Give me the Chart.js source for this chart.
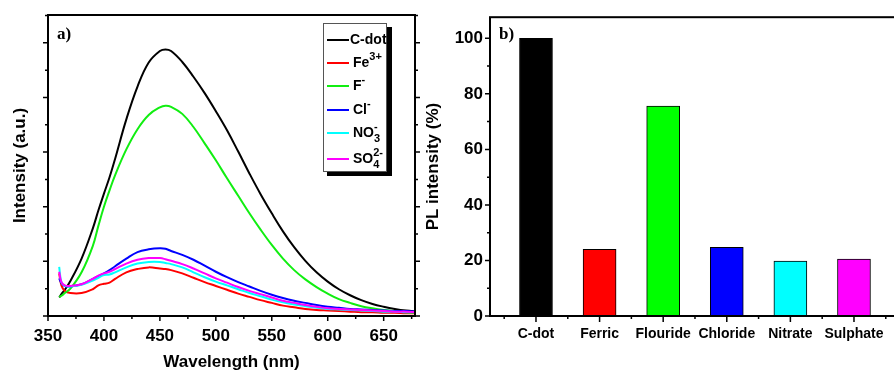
<!DOCTYPE html>
<html>
<head>
<meta charset="utf-8">
<script src="https://cdn.jsdelivr.net/npm/chart.js@4.4.1/dist/chart.umd.min.js"></script>
<style>
html, body { margin: 0; padding: 0; background: #fff; overflow: hidden; width: 894px; height: 374px; }
#boxA { position: absolute; left: 0; top: 0; }
#boxB { position: absolute; left: 420px; top: 0; }
</style>
</head>
<body>
<div id="boxA"><canvas id="chartA" width="425" height="374"></canvas></div>
<div id="boxB"><canvas id="chartB" width="490" height="374"></canvas></div>
<script>
// PANEL a) - emission spectra
let wavelengths = [360, 362, 365, 370, 380, 390, 395, 400, 405, 410, 420, 430, 440, 450, 455, 460, 470, 480, 490, 500,
	510, 520, 530, 540, 550, 560, 570, 580, 590, 600, 610, 620, 630, 640, 650, 660, 670, 680];
let cdot     = [34, 40, 48, 64, 105, 160, 193, 224, 254, 288, 360, 420, 464, 485, 488, 485, 465, 438, 408, 375,
	340, 301, 261, 223, 188, 155, 126, 101, 80, 63, 49, 38, 29, 22, 17, 13, 10, 8];
let ferric   = [78, 56, 46, 42, 42, 49, 56, 59, 61, 68, 80, 86, 89, 87, 86, 84, 78, 70, 62, 55,
	48, 41, 35, 29, 24, 19, 16, 13, 11, 10, 9, 8, 7, 7, 6, 6, 5, 5];
let fluoride = [35, 37, 42, 50, 80, 128, 165, 200, 230, 258, 305, 342, 368, 382, 385, 383, 370, 346, 316, 285,
	252, 220, 188, 158, 130, 105, 84, 67, 53, 41, 31, 24, 18, 14, 11, 9, 7, 6];
let chloride = [69, 60, 55, 54, 58, 68, 73, 78, 84, 91, 105, 117, 122, 124, 123, 119, 112, 103, 92, 81,
	71, 62, 54, 46, 39, 33, 28, 24, 20, 17, 15, 13, 12, 11, 10, 9, 9, 8];
let nitrate  = [90, 62, 55, 54, 57, 65, 70, 75, 76, 80, 89, 96, 99, 99, 97, 95, 89, 80, 71, 63,
	56, 49, 42, 36, 30, 25, 21, 18, 15, 13, 12, 11, 10, 9, 8, 8, 7, 7];
let sulphate = [81, 62, 56, 55, 58, 68, 74, 78, 81, 86, 96, 103, 106, 106, 104, 101, 95, 87, 78, 69,
	61, 53, 46, 40, 34, 28, 24, 20, 17, 14, 13, 12, 11, 10, 9, 8, 8, 7];
let wlTicks = [350, 400, 450, 500, 550, 600, 650];

// PANEL b) - PL intensity bars
let ionNames = ["C-dot", "Ferric", "Flouride", "Chloride", "Nitrate", "Sulphate"];
let plIntensity = [100, 24, 75.6, 24.7, 19.8, 20.5];
let plTicks = [0, 20, 40, 60, 80, 100];

let ionColors = ["#000000", "#ff0000", "#11ee11", "#0000ff", "#00ffff", "#ff00ff"];
let barColors = ["#000000", "#ff0000", "#00ff00", "#0000ff", "#00ffff", "#ff00ff"];

const SANS = "'Liberation Sans', Arial, sans-serif";
const SERIF = "'Liberation Serif', 'Times New Roman', serif";

//marc + ticks petits (majors i minors)
const frameTicks = {
	id: 'frameTicks',
	afterDraw(chart, args, opts) {
		const {ctx, chartArea: a, scales} = chart;
		ctx.save();
		ctx.strokeStyle = '#000';
		ctx.lineWidth = 2;
		ctx.strokeRect(a.left, a.top, a.right - a.left, a.bottom - a.top);
		ctx.lineWidth = 1.5;
		ctx.beginPath();
		opts.xMarks.forEach(([v, len]) => {
			const x = scales.x.getPixelForValue(v);
			ctx.moveTo(x, a.bottom);
			ctx.lineTo(x, a.bottom + len);
		});
		opts.yMarks.forEach(([v, len]) => {
			const y = scales.y.getPixelForValue(v);
			ctx.moveTo(a.left, y);
			ctx.lineTo(a.left - len, y);
			if (opts.right) {
				ctx.moveTo(a.right, y);
				ctx.lineTo(a.right + len, y);
			}
		});
		ctx.stroke();
		ctx.font = 'bold 17px ' + SERIF;
		ctx.fillStyle = '#000';
		ctx.textBaseline = 'middle';
		ctx.fillText(opts.tag, a.left + 9, 35);
		ctx.restore();
	}
};

// llegenda amb superindexs i subindexs
const ionLegend = {
	id: 'ionLegend',
	afterDraw(chart) {
		const ctx = chart.ctx;
		const rows = [
			{y: 40, parts: [["C-dot", 0]]},
			{y: 63, parts: [["Fe", 0], ["3+", -1]]},
			{y: 86, parts: [["F", 0], ["-", -1]]},
			{y: 110, parts: [["Cl", 0], ["-", -1]]},
			{y: 133, parts: [["NO", 0], ["3", 1], ["-", -1, true]]},
			{y: 159, parts: [["SO", 0], ["4", 1], ["2-", -1, true]]}
		];
		ctx.save();
		ctx.fillStyle = '#000';
		ctx.fillRect(327, 172, 65, 4);
		ctx.fillRect(387, 27, 5, 149);
		ctx.fillStyle = '#fff';
		ctx.fillRect(323, 23, 64, 149);
		ctx.strokeStyle = '#555';
		ctx.lineWidth = 1;
		ctx.strokeRect(323.5, 23.5, 63, 148);
		ctx.textBaseline = 'middle';
		rows.forEach((row, i) => {
			ctx.strokeStyle = ionColors[i];
			ctx.lineWidth = 2;
			ctx.beginPath();
			ctx.moveTo(327, row.y);
			ctx.lineTo(349, row.y);
			ctx.stroke();
			ctx.fillStyle = '#000';
			let x = i === 0 ? 350 : 353;
			let lastX = x;
			row.parts.forEach(([t, lvl, stacked]) => {
				ctx.font = (lvl === 0 ? 'bold 14px ' : 'bold 11px ') + SANS;
				const px = stacked ? lastX : x;
				ctx.fillText(t, px, row.y + lvl * 6);
				lastX = px;
				x = px + ctx.measureText(t).width;
			});
		});
		ctx.restore();
	}
};

const wlMarks = [];
for (let v = 350; v <= 675; v += 25) wlMarks.push([v, v % 50 === 0 ? 5 : 3]);
const intMarks = [];
for (let v = 0; v <= 550; v += 50) intMarks.push([v, v % 100 === 0 ? 5 : 3]);

const spectra = [cdot, ferric, fluoride, chloride, nitrate, sulphate];

const ctxA = document.getElementById('chartA').getContext('2d');
const chartA = new Chart(ctxA, {
	type: 'line',
	data: {
		datasets: spectra.map((serie, i) => ({
			label: ionNames[i],
			data: serie.map((v, k) => ({x: wavelengths[k], y: v})),
			borderColor: ionColors[i],
			borderWidth: 2,
			pointRadius: 0,
			tension: 0.4,
			fill: false
		})).reverse()
	},
	options: {
		responsive: false,
		animation: false,
		layout: {padding: {left: 10, right: 10, top: 15, bottom: 1}},
		plugins: {
			legend: {display: false},
			tooltip: {enabled: false},
			frameTicks: {xMarks: wlMarks, yMarks: intMarks, right: true, tag: 'a)'}
		},
		scales: {
			x: {
				type: 'linear', min: 350, max: 678,
				grid: {display: false, drawTicks: false},
				border: {display: false},
				afterBuildTicks: (s) => { s.ticks = wlTicks.map(v => ({value: v})); },
				afterFit: (s) => { s.height = 57; },
				ticks: {color: '#000', font: {family: SANS, size: 17, weight: 'bold'}, padding: 10, maxRotation: 0, autoSkip: false},
				title: {display: true, text: 'Wavelength (nm)', color: '#000', font: {family: SANS, size: 17, weight: 'bold'}, padding: 0}
			},
			y: {
				min: 0, max: 551,
				grid: {display: false, drawTicks: false},
				border: {display: false},
				afterFit: (s) => { s.width = 38; },
				ticks: {display: false},
				title: {display: true, text: 'Intensity (a.u.)', color: '#000', font: {family: SANS, size: 17, weight: 'bold'}, padding: 0}
			}
		}
	},
	plugins: [frameTicks, ionLegend]
});

const catMarks = [];
ionNames.forEach((n, i) => { catMarks.push([i, 6]); catMarks.push([i - 0.5, 3]); });
catMarks.push([ionNames.length - 0.5, 3]);
const plMarks = [];
for (let v = 0; v <= 100; v += 10) plMarks.push([v, v % 20 === 0 ? 5 : 3]);

const ctxB = document.getElementById('chartB').getContext('2d');
const chartB = new Chart(ctxB, {
	type: 'bar',
	data: {
		datasets: [{
			label: 'PL intensity (%)',
			data: plIntensity.map((v, i) => ({x: i, y: v})),
			backgroundColor: barColors,
			borderColor: '#000',
			borderWidth: 1,
			borderSkipped: false,
			barThickness: 33
		}]
	},
	options: {
		responsive: false,
		animation: false,
		layout: {padding: {left: 3, right: 8, top: 15, bottom: 0}},
		plugins: {
			legend: {display: false},
			tooltip: {enabled: false},
			frameTicks: {xMarks: catMarks, yMarks: plMarks, right: false, tag: 'b)'}
		},
		scales: {
			x: {
				type: 'linear', min: -0.723, max: 5.755, offset: false,
				grid: {display: false, drawTicks: false},
				border: {display: false},
				afterBuildTicks: (s) => { s.ticks = ionNames.map((n, i) => ({value: i})); },
				afterFit: (s) => { s.height = 58; },
				ticks: {
					color: '#000', font: {family: SANS, size: 14, weight: 'bold'}, padding: 10, maxRotation: 0, autoSkip: false,
					callback: (v) => ionNames[v]
				}
			},
			y: {
				min: 0, max: 107.6,
				grid: {display: false, drawTicks: false},
				border: {display: false},
				afterBuildTicks: (s) => { s.ticks = plTicks.map(v => ({value: v})); },
				afterFit: (s) => { s.width = 67; },
				ticks: {color: '#000', font: {family: SANS, size: 17, weight: 'bold'}, padding: 7},
				title: {display: true, text: 'PL intensity (%)', color: '#000', font: {family: SANS, size: 17, weight: 'bold'}, padding: 0}
			}
		}
	},
	plugins: [frameTicks]
});
</script>
</body>
</html>
